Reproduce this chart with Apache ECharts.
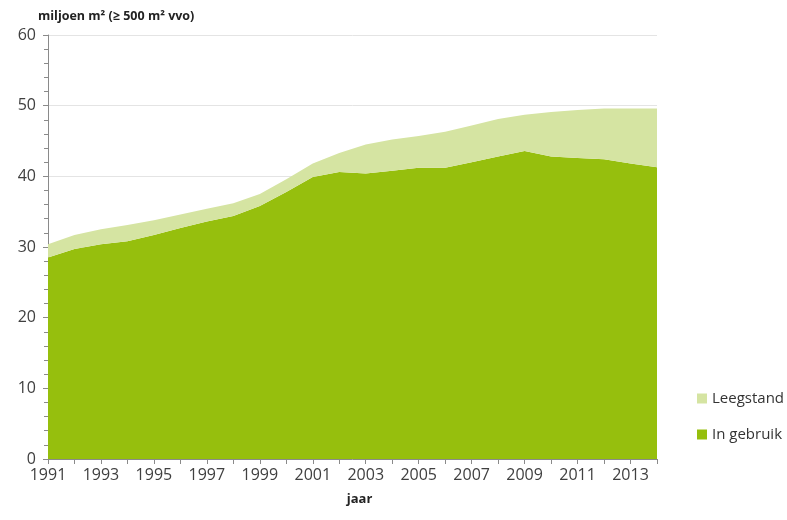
<!DOCTYPE html>
<html>
<head>
<meta charset="utf-8">
<script src="https://cdn.jsdelivr.net/npm/echarts@6/dist/echarts.min.js"></script>
<style>
  html, body { margin: 0; padding: 0; background: #fff; }
  #chart { width: 787px; height: 520px; }
</style>
</head>
<body>
<div id="chart"></div>
<script>
var years = ['1991','1992','1993','1994','1995','1996','1997','1998','1999','2000','2001','2002',
             '2003','2004','2005','2006','2007','2008','2009','2010','2011','2012','2013','2014'];
// miljoen m2 in gebruik
var inGebruik = [28.5, 29.7, 30.4, 30.8, 31.7, 32.7, 33.6, 34.4, 35.8, 37.8, 39.9, 40.6,
                 40.4, 40.8, 41.2, 41.2, 42.0, 42.8, 43.6, 42.8, 42.6, 42.4, 41.8, 41.3];
// leegstand bovenop in gebruik
var leegstand = [1.9, 2.0, 2.1, 2.3, 2.1, 1.9, 1.8, 1.8, 1.7, 1.8, 1.9, 2.7,
                 4.1, 4.4, 4.5, 5.1, 5.2, 5.3, 5.1, 6.3, 6.8, 7.2, 7.8, 8.3];

var font = '"Open Sans", "Liberation Sans", sans-serif';
var chart = echarts.init(document.getElementById('chart'));

var option = {
  animation: false,
  backgroundColor: '#fff',
  textStyle: { fontFamily: font },
  title: {
    text: 'miljoen m² (≥ 500 m² vvo)',
    left: 33,
    top: 5,
    textStyle: { fontSize: 12.5, fontWeight: 'bold', color: '#222', fontFamily: font }
  },
  legend: {
    orient: 'vertical',
    left: 692,
    top: 386,
    itemWidth: 10,
    itemHeight: 10,
    itemGap: 21,
    icon: 'rect',
    data: ['Leegstand', 'In gebruik'],
    textStyle: { fontSize: 15, color: '#333', fontFamily: font }
  },
  grid: { left: 48, right: 130, top: 35, bottom: 61, containLabel: false },
  xAxis: {
    type: 'category',
    data: years,
    boundaryGap: false,
    name: 'jaar',
    nameLocation: 'middle',
    nameGap: 34,
    nameTextStyle: { fontSize: 13, fontWeight: 'bold', color: '#222', padding: [0, 0, 0, 14] },
    axisLine: { lineStyle: { color: '#8a8a8a' } },
    axisTick: { show: true, interval: 0, length: 5, lineStyle: { color: '#8a8a8a' } },
    axisLabel: { interval: 1, fontSize: 16, color: '#404040', margin: 8 },
    splitLine: { show: false }
  },
  yAxis: {
    type: 'value',
    min: 0,
    max: 60,
    interval: 10,
    axisLine: { show: true, lineStyle: { color: '#8a8a8a' } },
    axisTick: { show: true, length: 5, lineStyle: { color: '#8a8a8a' } },
    minorTick: { show: true, splitNumber: 5, length: 4, lineStyle: { color: '#8a8a8a' } },
    axisLabel: { fontSize: 16, color: '#404040', margin: 12 },
    splitLine: { show: true, lineStyle: { color: '#e4e4e4' } }
  },
  series: [
    {
      name: 'In gebruik',
      type: 'line',
      stack: 'totaal',
      data: inGebruik,
      symbol: 'none',
      lineStyle: { width: 0 },
      itemStyle: { color: '#96bf0d' },
      areaStyle: { color: '#96bf0d', opacity: 1 }
    },
    {
      name: 'Leegstand',
      type: 'line',
      stack: 'totaal',
      data: leegstand,
      symbol: 'none',
      lineStyle: { width: 0 },
      itemStyle: { color: '#d5e4a2' },
      areaStyle: { color: '#d5e4a2', opacity: 1 }
    }
  ]
};

chart.setOption(option);
</script>
</body>
</html>
